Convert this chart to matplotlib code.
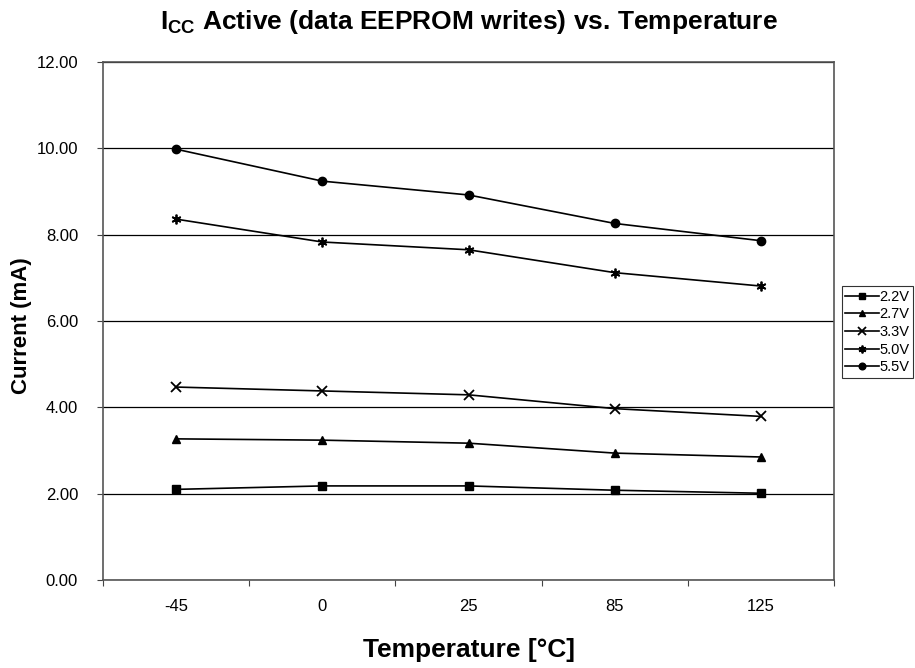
import matplotlib.pyplot as plt

plt.rcParams['font.family'] = ['Liberation Sans', 'DejaVu Sans']
plt.rcParams['mathtext.fontset'] = 'custom'
plt.rcParams['mathtext.rm'] = 'Liberation Sans'
plt.rcParams['mathtext.bf'] = 'Liberation Sans:bold'

# Temperature categories (deg C)
temps = ['-45', '0', '25', '85', '125']

# Current (mA) per supply voltage
i_22 = [2.10, 2.18, 2.18, 2.08, 2.01]
i_27 = [3.27, 3.24, 3.17, 2.94, 2.85]
i_33 = [4.47, 4.38, 4.29, 3.97, 3.79]
i_50 = [8.36, 7.83, 7.65, 7.12, 6.81]
i_55 = [9.98, 9.24, 8.92, 8.26, 7.86]

series = [('2.2V', i_22, 's'), ('2.7V', i_27, '^'), ('3.3V', i_33, 'x'),
          ('5.0V', i_50, (6, 2, 0)), ('5.5V', i_55, 'o')]

fig = plt.figure(figsize=(9.15, 6.68), dpi=100)
ax = fig.add_axes([0.1126, 0.1317, 0.7989, 0.7755])

x = list(range(len(temps)))
for label, vals, mk in series:
    ax.plot(x, vals, color='black', linewidth=1.2, marker=mk,
            markersize=6 if mk not in ('x', (6, 2, 0)) else 7,
            markeredgewidth=1.3 if mk in ('x', (6, 2, 0)) else 1.0,
            label=label)

ax.set_xlim(-0.5, len(temps) - 0.5)
ax.set_ylim(0, 12)
ax.set_yticks([0, 2, 4, 6, 8, 10, 12])
ax.set_yticklabels(['%.2f' % v for v in [0, 2, 4, 6, 8, 10, 12]], fontsize=12)

# category boundaries carry the tick marks, labels sit in between
ax.set_xticks([i - 0.5 for i in range(len(temps) + 1)])
ax.set_xticklabels([])
ax.set_xticks(x, minor=True)
ax.set_xticklabels(temps, minor=True, fontsize=12)
ax.tick_params(axis='x', which='major', direction='out', length=4, color='#444444')
ax.tick_params(axis='x', which='minor', length=0, pad=14)
ax.tick_params(axis='y', direction='out', length=4, color='#444444', pad=14)

ax.yaxis.grid(True, color='black', linewidth=0.9)
ax.set_axisbelow(True)
for s in ax.spines.values():
    s.set_color('#555555')
    s.set_linewidth(1.2)

cx = 0.1126 + 0.7989 / 2
fig.text(cx, 1 - 22 / 668, r'$\mathbf{I_{CC}}$ Active (data EEPROM writes) vs. Temperature',
         fontsize=19, fontweight='bold', ha='center', va='center')
fig.text(cx, 1 - 650 / 668, 'Temperature [°C]', fontsize=19, fontweight='bold',
         ha='center', va='center')
fig.text(22 / 915, 1 - 326 / 668, 'Current (mA)', fontsize=16, fontweight='bold',
         ha='center', va='center', rotation=90)

leg = fig.legend(loc='center left', bbox_to_anchor=(0.92, 0.503), fontsize=10.5,
                 frameon=True, fancybox=False, edgecolor='black', handlelength=2.3,
                 handletextpad=0.05, labelspacing=0.25, borderpad=0.25,
                 borderaxespad=0, markerscale=0.8)
leg.get_frame().set_linewidth(0.8)

fig.savefig('out.png', dpi=100)
